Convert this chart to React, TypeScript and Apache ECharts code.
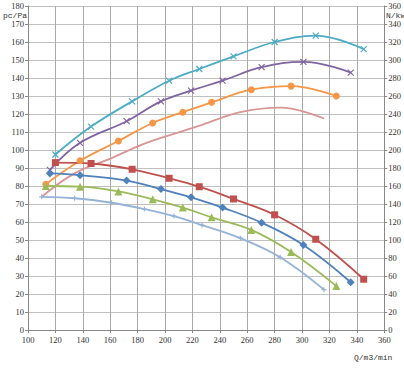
import React, { useEffect, useRef } from "react";
import * as echarts from "echarts";

// Flow (Q, m3/min) positions of each fan model's test points
const qA = [120, 146, 176, 203, 225, 250, 280, 310, 345];
const qB = [116, 138, 172, 197, 219, 242, 270.5, 301, 335.5];
const qC = [113, 138, 166, 191, 213, 234, 263, 292, 325];
const qD = [110, 134, 161, 185, 206.5, 227, 255, 284, 316];

// Power curves N/kw (right axis)
const powerA = [195, 226, 254, 277, 290, 304, 320, 327, 312];
const powerB = [178, 208, 232, 254, 266, 277, 292, 298, 286];
const powerC = [162, 188, 210, 230, 242, 253, 267, 271, 260];
const powerD = [148, 174, 191, 207, 218, 228, 242, 247, 235];

// Pressure curves pc/Pa (left axis)
const pressA = [93, 92.5, 89.3, 84.3, 79.6, 72.8, 64, 50.4, 28.2];
const pressB = [87, 86, 83, 78.3, 73.7, 68, 59.6, 47.2, 26.5];
const pressC = [80, 79.6, 77, 72.6, 68, 62.6, 55.6, 43.3, 24.4];
const pressD = [74, 73.2, 70.7, 67.2, 63.3, 58.3, 51, 40.4, 22.4];

const xTicks = { min: 100, max: 360, interval: 20 };
const leftTicks = { min: 0, max: 180, interval: 10 };
const rightTicks = { min: 0, max: 360, interval: 20 };

const X_SYMBOL = "path://M0,0L10,10M10,0L0,10";
const PLUS_SYMBOL = "path://M5,0L5,10M0,5L10,5";

const zip = (xs: number[], ys: number[]) => xs.map((x, i) => [x, ys[i]]);

export default function App() {
  const ref = useRef<HTMLDivElement>(null);
  useEffect(() => {
    if (!ref.current) return;
    const chart = echarts.init(ref.current, null, { renderer: "svg" });
    const labelFont = {
      fontFamily: "Liberation Serif",
      fontSize: 8.5,
      color: "#333",
    };
    const mk = (
      name: string,
      color: string,
      xs: number[],
      ys: number[],
      yAxisIndex: number,
      symbol: string,
      symbolSize: number,
      stroke = false
    ) => ({
      name,
      type: "line",
      yAxisIndex,
      data: zip(xs, ys),
      smooth: 0.4,
      symbol,
      symbolSize,
      showSymbol: symbol !== "none",
      lineStyle: { color, width: 1.8 },
      itemStyle: stroke
        ? { color, borderColor: color, borderWidth: 1.2 }
        : { color, borderWidth: 0 },
      z: 3,
    });
    chart.setOption({
      animation: false,
      grid: { left: 28, right: 18, top: 6, bottom: 41, containLabel: false },
      xAxis: {
        type: "value",
        ...xTicks,
        axisLine: { show: true, lineStyle: { color: "#888", width: 1 } },
        axisTick: { show: true, length: 3, lineStyle: { color: "#888" } },
        axisLabel: { ...labelFont, margin: 5 },
        splitLine: { show: true, lineStyle: { color: "#aaa", width: 1 } },
      },
      yAxis: [
        {
          type: "value",
          position: "left",
          ...leftTicks,
          axisLine: { show: true, lineStyle: { color: "#888", width: 1 } },
          axisTick: { show: true, length: 3, lineStyle: { color: "#888" } },
          axisLabel: { ...labelFont, margin: 4 },
          splitLine: { show: true, lineStyle: { color: "#c0c0c0", width: 1 } },
        },
        {
          type: "value",
          position: "right",
          ...rightTicks,
          axisLine: { show: true, lineStyle: { color: "#888", width: 1 } },
          axisTick: { show: true, length: 3, lineStyle: { color: "#888" } },
          axisLabel: { ...labelFont, margin: 4 },
          splitLine: { show: false },
        },
      ],
      graphic: [
        {
          type: "text",
          left: 3,
          top: 11,
          style: { text: "pc/Pa", font: "8px 'Liberation Mono'", fill: "#333" },
        },
        {
          type: "text",
          left: 386,
          top: 11,
          style: { text: "N/kw", font: "8px 'Liberation Mono'", fill: "#333" },
        },
        {
          type: "text",
          left: 354,
          top: 353,
          style: { text: "Q/m3/min", font: "8px 'Liberation Mono'", fill: "#333" },
        },
      ],
      series: [
        mk("powerA", "#4BACC6", qA, powerA, 1, X_SYMBOL, 6, true),
        mk("powerB", "#8064A2", qB, powerB, 1, X_SYMBOL, 6, true),
        mk("powerC", "#F79646", qC, powerC, 1, "circle", 7),
        mk("powerD", "#D99694", qD, powerD, 1, "none", 0),
        mk("pressA", "#C0504D", qA, pressA, 0, "rect", 7),
        mk("pressB", "#4F81BD", qB, pressB, 0, "diamond", 8),
        mk("pressC", "#9BBB59", qC, pressC, 0, "triangle", 8),
        mk("pressD", "#95B3D7", qD, pressD, 0, PLUS_SYMBOL, 5, true),
      ],
    });
    return () => chart.dispose();
  }, []);
  return <div ref={ref} style={{ width: 404, height: 371, position: "absolute", left: 0, top: 0 }} />;
}
